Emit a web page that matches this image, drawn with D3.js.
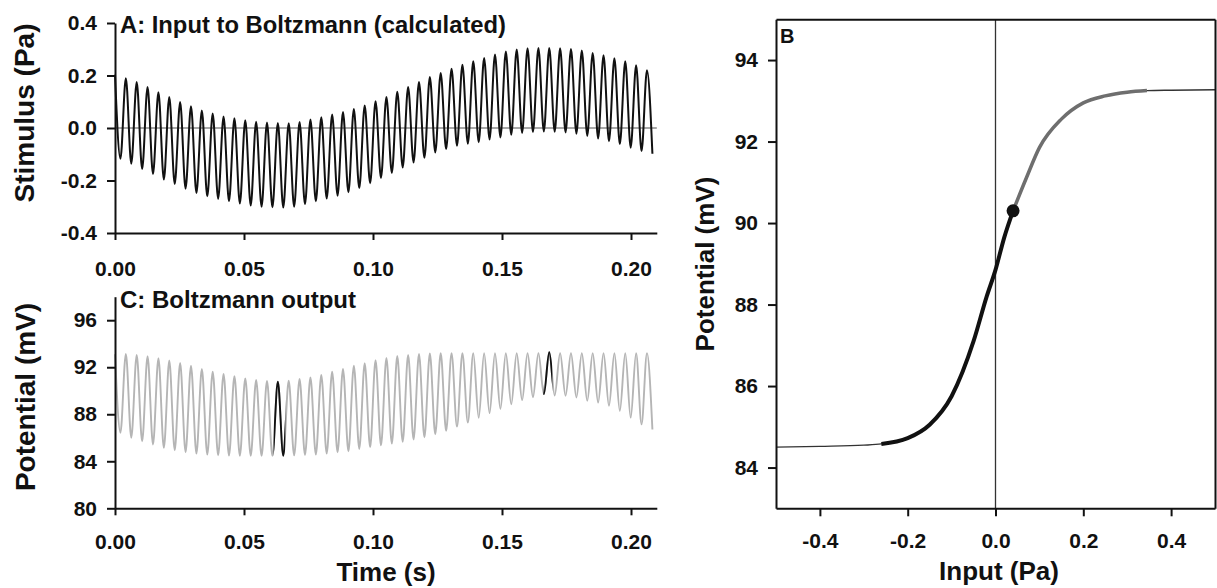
<!DOCTYPE html>
<html>
<head>
<meta charset="utf-8">
<script src="https://cdn.jsdelivr.net/npm/d3@7"></script>
<style>
  body { margin: 0; background: #fff; }
  svg text { font-family: "Liberation Sans", Arial, sans-serif; font-weight: bold; fill: #111; }
</style>
</head>
<body>
<svg id="chart" width="1217" height="588"></svg>
<script>
// tick labels
const timeTicks = [0, 0.05, 0.10, 0.15, 0.20];
const stimTicks = [-0.4, -0.2, 0, 0.2, 0.4];
const outTicks = [80, 84, 88, 92, 96];
const inputTicks = [-0.4, -0.2, 0, 0.2, 0.4];
const potTicks = [84, 86, 88, 90, 92, 94];

// carrier period (s)
const cyclePeriod = 0.004208;

// A: stimulus maxima / minima, one per cycle (Pa)
const stimPeaks = [
  0.203, 0.190, 0.175, 0.156, 0.136, 0.118, 0.099, 0.083, 0.067, 0.055,
  0.044, 0.037, 0.030, 0.024, 0.021, 0.019, 0.018, 0.023, 0.032, 0.041,
  0.051, 0.061, 0.072, 0.086, 0.102, 0.118, 0.138, 0.156, 0.175, 0.194,
  0.210, 0.226, 0.241, 0.254, 0.267, 0.280, 0.291, 0.299, 0.304, 0.305,
  0.305, 0.304, 0.301, 0.295, 0.286, 0.277, 0.266, 0.254, 0.239, 0.220
];
const stimTroughs = [
  -0.117, -0.136, -0.156, -0.175, -0.196, -0.213, -0.231, -0.248, -0.260, -0.270,
  -0.279, -0.288, -0.295, -0.300, -0.302, -0.303, -0.300, -0.290, -0.279, -0.269,
  -0.258, -0.245, -0.229, -0.210, -0.190, -0.171, -0.150, -0.131, -0.113, -0.093,
  -0.080, -0.068, -0.060, -0.054, -0.044, -0.036, -0.026, -0.019, -0.015, -0.013,
  -0.014, -0.017, -0.022, -0.030, -0.040, -0.050, -0.061, -0.075, -0.088, -0.098
];

// C: Boltzmann output maxima / minima (mV)
const outPeaks = [
  93.10, 93.14, 93.05, 92.94, 92.77, 92.57, 92.37, 92.14, 91.85, 91.63,
  91.43, 91.23, 91.05, 90.91, 90.83, 90.77, 90.85, 91.00, 91.14, 91.34,
  91.63, 91.85, 92.14, 92.34, 92.60, 92.80, 92.95, 93.05, 93.12, 93.17,
  93.20, 93.20, 93.20, 93.20, 93.20, 93.20, 93.20, 93.20, 93.20, 93.20,
  93.28, 93.20, 93.20, 93.20, 93.20, 93.20, 93.20, 93.20, 93.20, 93.20
];
const outTroughs = [
  86.43, 86.00, 85.71, 85.43, 85.14, 84.94, 84.77, 84.65, 84.57, 84.51,
  84.48, 84.47, 84.46, 84.46, 84.46, 84.47, 84.50, 84.54, 84.57, 84.65,
  84.77, 84.85, 85.05, 85.20, 85.35, 85.50, 85.65, 85.85, 86.05, 86.30,
  86.60, 86.95, 87.30, 87.70, 88.10, 88.45, 88.85, 89.20, 89.45, 89.71,
  89.60, 89.57, 89.43, 89.14, 89.00, 88.71, 88.28, 87.71, 87.14, 86.71
];
// highlighted single cycles in C (s)
const highlightWindows = [[0.0615, 0.0660], [0.1660, 0.1695]];

// B: Boltzmann transfer curve
const inputPa = [-0.5, -0.4, -0.3, -0.26, -0.2, -0.15, -0.1, -0.05, -0.02, 0, 0.02, 0.04, 0.07, 0.1, 0.15, 0.2, 0.25, 0.3, 0.345, 0.4, 0.5];
const potentialMv = [84.50, 84.52, 84.55, 84.58, 84.72, 85.05, 85.75, 87.10, 88.20, 88.85, 89.65, 90.30, 91.10, 91.85, 92.55, 92.95, 93.12, 93.21, 93.25, 93.26, 93.27];
const blackRange = [-0.26, 0.04];
const grayRange = [0.04, 0.345];
const restInput = [0.04];
const restPotential = [90.3];

const svg = d3.select("#chart");

function trace(peaks, troughs) {
  const pts = [];
  peaks.forEach((p, k) => {
    pts.push([k * cyclePeriod, p]);
    pts.push([(k + 0.5) * cyclePeriod, troughs[k]]);
  });
  return pts;
}

function styleAxis(g, size) {
  g.attr("font-size", null).attr("font-family", null);
  g.selectAll("path, line").attr("stroke", "#111").attr("stroke-width", 2);
  g.selectAll("text").style("font-size", size + "px");
}

const fmt1 = d => d.toFixed(1);
const fmt2 = d => d.toFixed(2);

// ---------- panel A ----------
const xA = d3.scaleLinear().domain([0, 0.21]).range([115, 656.8]);
const yA = d3.scaleLinear().domain([-0.4, 0.4]).range([233, 23]);

svg.append("line")
  .attr("x1", xA(0)).attr("x2", xA(0.21))
  .attr("y1", yA(0)).attr("y2", yA(0))
  .attr("stroke", "#a8a8a8").attr("stroke-width", 2);

svg.append("path")
  .datum(trace(stimPeaks, stimTroughs))
  .attr("fill", "none").attr("stroke", "#111").attr("stroke-width", 2)
  .attr("d", d3.line().x(d => xA(d[0])).y(d => yA(d[1])).curve(d3.curveMonotoneX));

svg.append("g").attr("transform", `translate(0,${yA(-0.4)})`)
  .call(d3.axisBottom(xA).tickValues(timeTicks).tickFormat(fmt2).tickSize(7).tickPadding(21).tickSizeOuter(0))
  .call(g => styleAxis(g, 21));
svg.append("g").attr("transform", `translate(${xA(0)},0)`)
  .call(d3.axisLeft(yA).tickValues(stimTicks).tickFormat(fmt1).tickSize(8).tickPadding(10).tickSizeOuter(0))
  .call(g => styleAxis(g, 21));

svg.append("text").attr("x", 120).attr("y", 33).style("font-size", "23.8px")
  .text("A: Input to Boltzmann (calculated)");
svg.append("text").attr("transform", "translate(34,113) rotate(-90)")
  .attr("text-anchor", "middle").style("font-size", "28px").text("Stimulus (Pa)");

// ---------- panel C ----------
const xC = d3.scaleLinear().domain([0, 0.21]).range([115, 656.8]);
const yC = d3.scaleLinear().domain([80, 98]).range([508.3, 296.7]);
const lineC = d3.line().x(d => xC(d[0])).y(d => yC(d[1])).curve(d3.curveMonotoneX);
const outTrace = trace(outPeaks, outTroughs);

svg.append("path").datum(outTrace)
  .attr("fill", "none").attr("stroke", "#b5b5b5").attr("stroke-width", 1.9)
  .attr("d", lineC);

highlightWindows.forEach((w, i) => {
  svg.append("clipPath").attr("id", "hl" + i)
    .append("rect").attr("x", xC(w[0])).attr("width", xC(w[1]) - xC(w[0]))
    .attr("y", yC(98)).attr("height", yC(80) - yC(98));
  svg.append("path").datum(outTrace)
    .attr("clip-path", `url(#hl${i})`)
    .attr("fill", "none").attr("stroke", "#111").attr("stroke-width", 1.9)
    .attr("d", lineC);
});

svg.append("g").attr("transform", `translate(0,${yC(80)})`)
  .call(d3.axisBottom(xC).tickValues(timeTicks).tickFormat(fmt2).tickSize(7).tickPadding(19).tickSizeOuter(0))
  .call(g => styleAxis(g, 21));
svg.append("g").attr("transform", `translate(${xC(0)},0)`)
  .call(d3.axisLeft(yC).tickValues(outTicks).tickFormat(d3.format("d")).tickSize(8).tickPadding(10).tickSizeOuter(0))
  .call(g => styleAxis(g, 21));

svg.append("text").attr("x", 120).attr("y", 308).style("font-size", "24px")
  .text("C: Boltzmann output");
svg.append("text").attr("transform", "translate(35,397) rotate(-90)")
  .attr("text-anchor", "middle").style("font-size", "28px").text("Potential (mV)");
svg.append("text").attr("x", 386).attr("y", 581)
  .attr("text-anchor", "middle").style("font-size", "26px").text("Time (s)");

// ---------- panel B ----------
const xB = d3.scaleLinear().domain([-0.5, 0.5]).range([776, 1215]);
const yB = d3.scaleLinear().domain([83, 95]).range([508.3, 19.3]);
const curvePts = inputPa.map((v, i) => [v, potentialMv[i]]);
const lineB = d3.line().x(d => xB(d[0])).y(d => yB(d[1])).curve(d3.curveMonotoneX);

svg.append("line")
  .attr("x1", xB(0)).attr("x2", xB(0))
  .attr("y1", yB(95)).attr("y2", yB(83))
  .attr("stroke", "#333").attr("stroke-width", 1.3);

svg.append("path").datum(curvePts)
  .attr("fill", "none").attr("stroke", "#333").attr("stroke-width", 1.4)
  .attr("d", lineB);
svg.append("path").datum(curvePts.filter(d => d[0] >= blackRange[0] && d[0] <= blackRange[1]))
  .attr("fill", "none").attr("stroke", "#111").attr("stroke-width", 4)
  .attr("d", lineB);
svg.append("path").datum(curvePts.filter(d => d[0] >= grayRange[0] && d[0] <= grayRange[1]))
  .attr("fill", "none").attr("stroke", "#6e6e6e").attr("stroke-width", 3.5)
  .attr("d", lineB);

svg.selectAll(".rest").data(restInput).enter().append("circle")
  .attr("cx", d => xB(d)).attr("cy", (d, i) => yB(restPotential[i]))
  .attr("r", 6.5).attr("fill", "#111");

svg.append("g").attr("transform", `translate(0,${yB(83)})`)
  .call(d3.axisBottom(xB).tickValues(inputTicks).tickFormat(fmt1).tickSize(8).tickPadding(17).tickSizeOuter(0))
  .call(g => styleAxis(g, 21));
svg.append("g").attr("transform", `translate(${xB(-0.5)},0)`)
  .call(d3.axisLeft(yB).tickValues(potTicks).tickFormat(d3.format("d")).tickSize(8).tickPadding(10).tickSizeOuter(0))
  .call(g => styleAxis(g, 21));
svg.append("g").attr("transform", `translate(0,${yB(95)})`)
  .call(d3.axisTop(xB).tickValues([]).tickSizeOuter(0))
  .call(g => styleAxis(g, 21));
svg.append("g").attr("transform", `translate(${xB(0.5)},0)`)
  .call(d3.axisRight(yB).tickValues([]).tickSizeOuter(0))
  .call(g => styleAxis(g, 21));

svg.append("text").attr("x", 780).attr("y", 43).style("font-size", "20px").text("B");
svg.append("text").attr("transform", "translate(714,264) rotate(-90)")
  .attr("text-anchor", "middle").style("font-size", "26px").text("Potential (mV)");
svg.append("text").attr("x", 999).attr("y", 580)
  .attr("text-anchor", "middle").style("font-size", "26px").text("Input (Pa)");
</script>
</body>
</html>
